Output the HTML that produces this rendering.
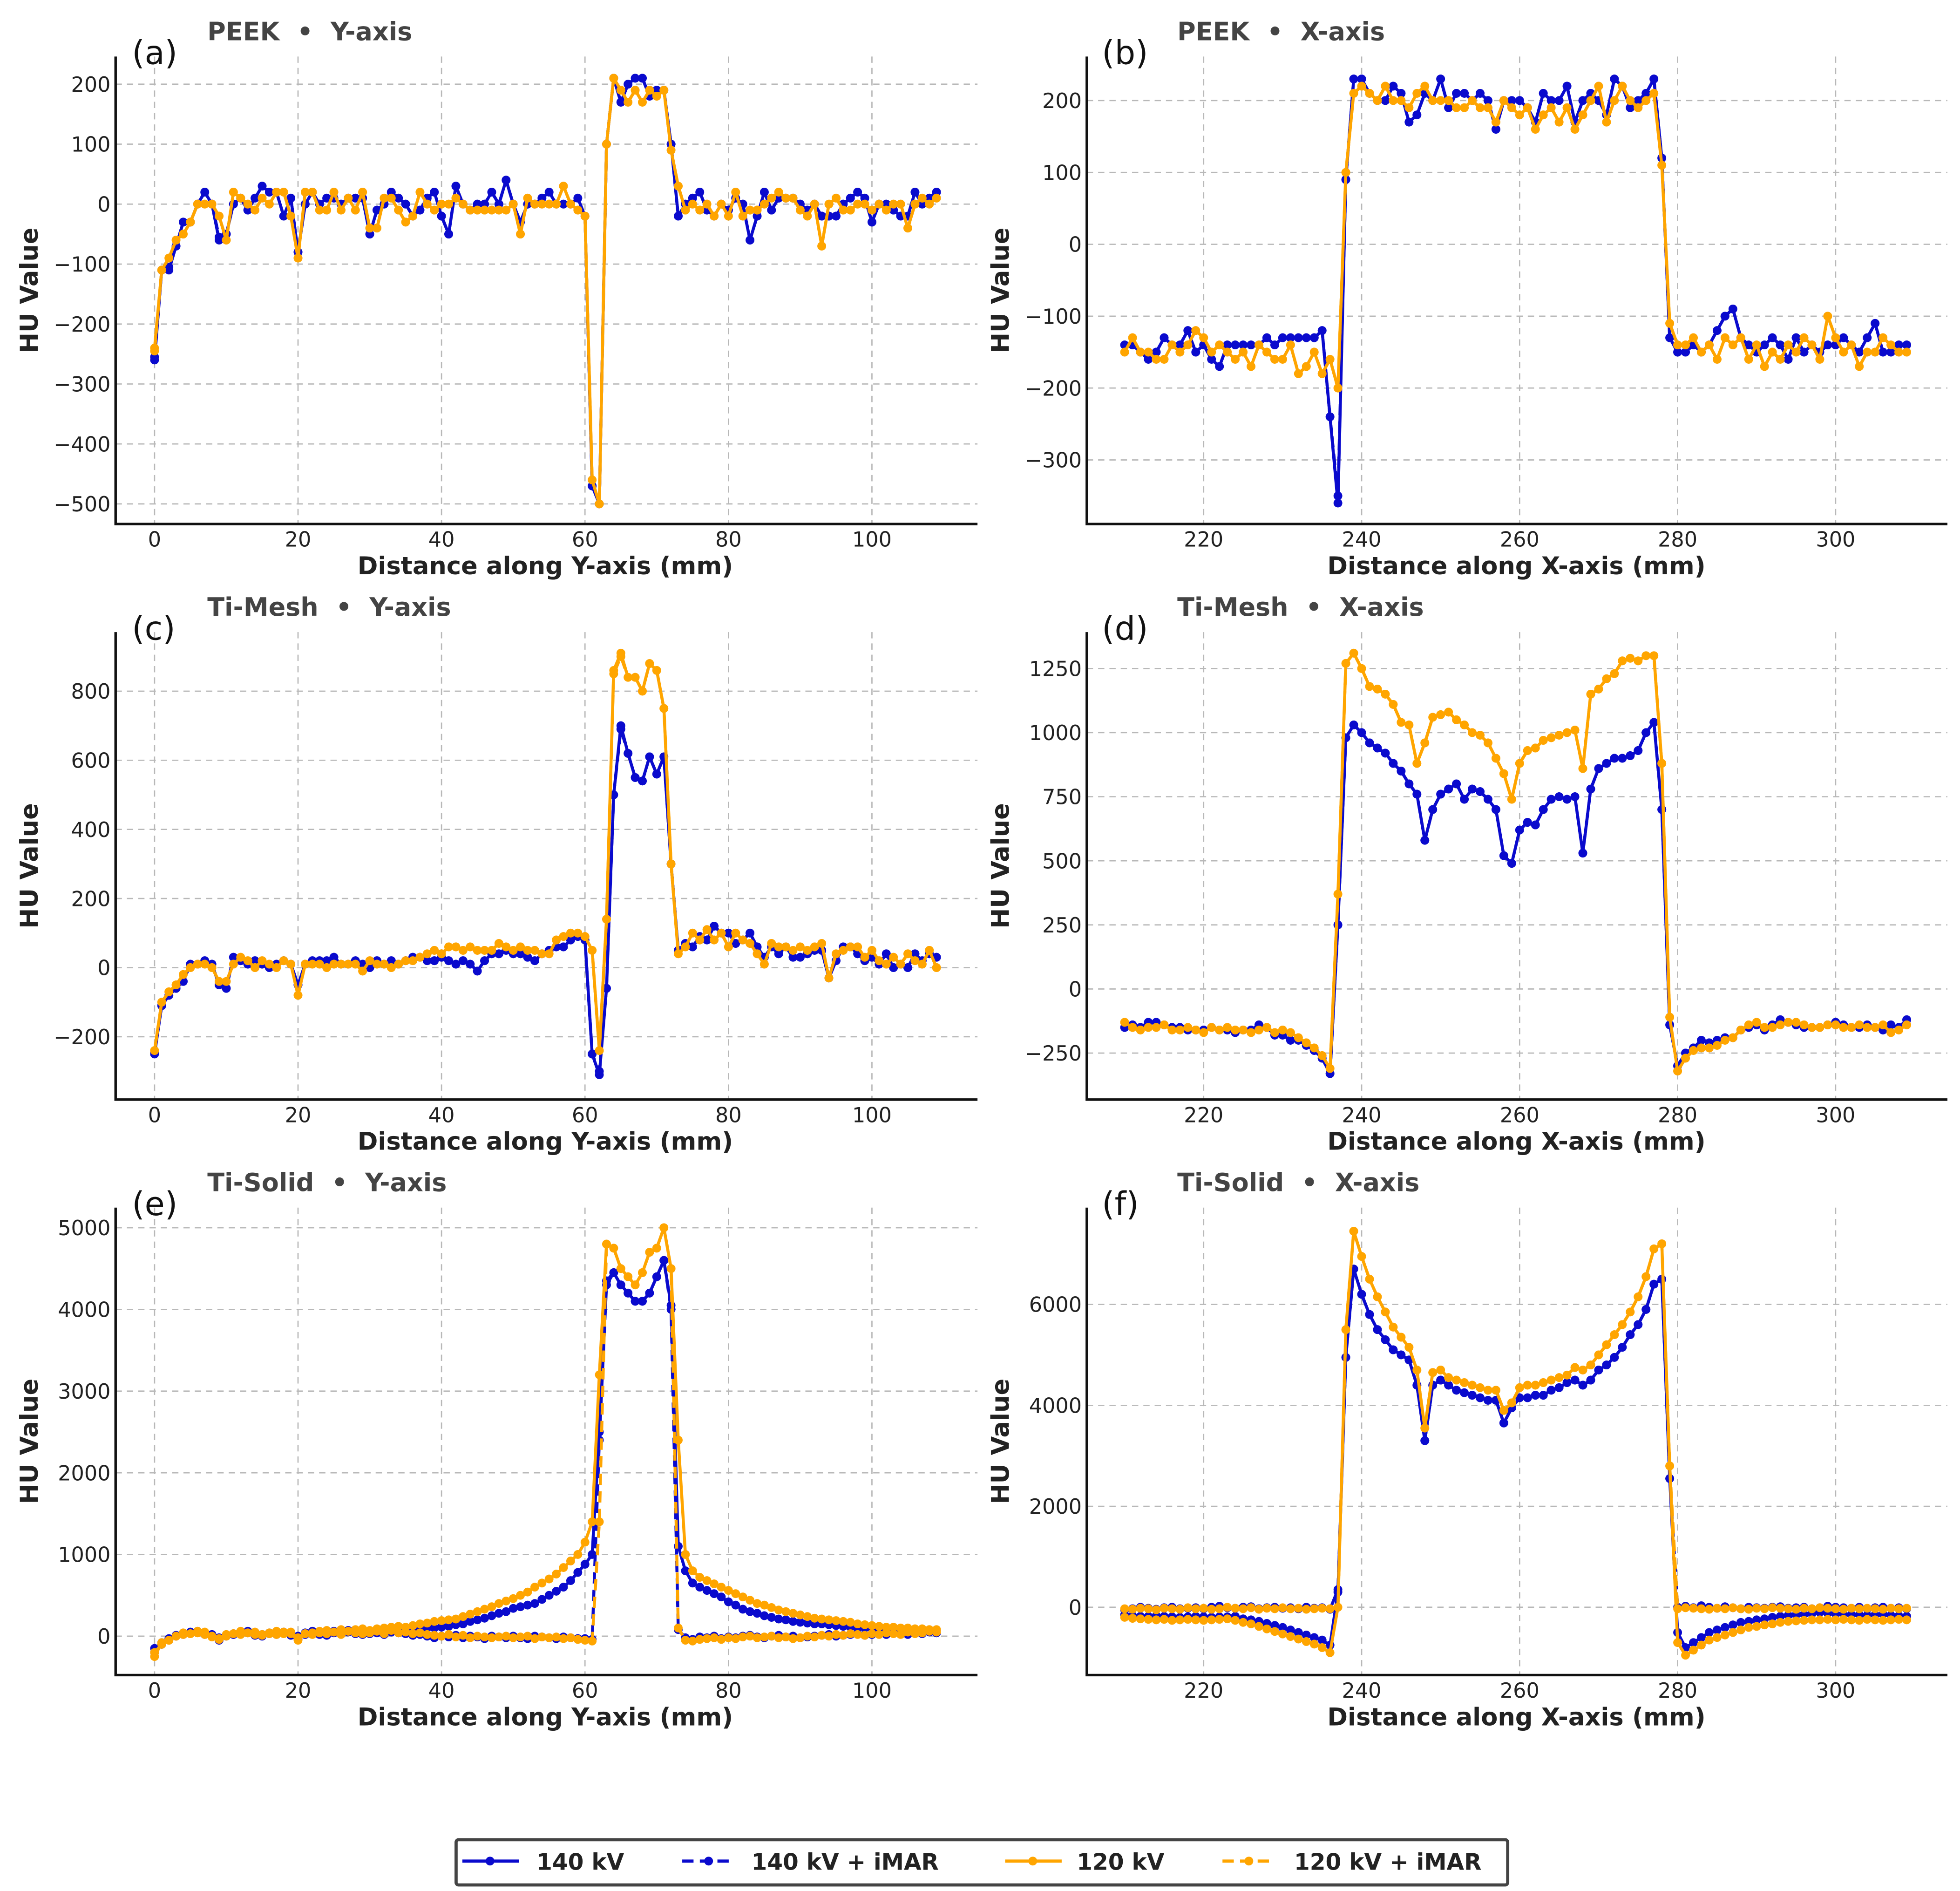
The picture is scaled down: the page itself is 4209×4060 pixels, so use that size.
<!DOCTYPE html>
<html><head><meta charset="utf-8">
<style>
html,body{margin:0;padding:0;background:#fff;}
svg{display:block;}
text{font-family:"DejaVu Sans","Liberation Sans",sans-serif;}
</style></head>
<body>
<svg id="fig" width="4209" height="4060" viewBox="0 0 1560 1504.8" xmlns="http://www.w3.org/2000/svg">
<rect x="0" y="0" width="1560" height="1505" fill="#fff"/>
<g id="panels"></g>
<g>
  <rect x="363" y="1464" width="837" height="36" fill="#fff" stroke="#444" stroke-width="2.5" rx="2"/>
  <g>
    <line x1="368" y1="1481" x2="413" y2="1481" stroke="#0a0acd" stroke-width="2.5"/><circle cx="390" cy="1481" r="3.5" fill="#0a0acd"/>
    <text x="427" y="1488" font-size="18" font-weight="bold" fill="#222">140 kV</text></g>
  <g>
    <line x1="543" y1="1481" x2="585" y2="1481" stroke="#0a0acd" stroke-width="2.5" stroke-dasharray="9,5"/><circle cx="564" cy="1481" r="3.5" fill="#0a0acd"/>
    <text x="598" y="1488" font-size="18" font-weight="bold" fill="#222">140 kV + iMAR</text></g>
  <g>
    <line x1="800" y1="1481" x2="845" y2="1481" stroke="#ffa500" stroke-width="2.5"/><circle cx="822" cy="1481" r="3.5" fill="#ffa500"/>
    <text x="857" y="1488" font-size="18" font-weight="bold" fill="#222">120 kV</text></g>
  <g>
    <line x1="973" y1="1481" x2="1015" y2="1481" stroke="#ffa500" stroke-width="2.5" stroke-dasharray="9,5"/><circle cx="994" cy="1481" r="3.5" fill="#ffa500"/>
    <text x="1030" y="1488" font-size="18" font-weight="bold" fill="#222">120 kV + iMAR</text></g>
</g>
</svg>
<script>
// ---------- data ----------
const startY = 0;     // Y-axis profiles start (mm)
const startX = 210;   // X-axis profiles start (mm)
const seriesNames = ["140 kV","140 kV + iMAR","120 kV","120 kV + iMAR"];

const aBlue = [-260,-110,-110,-70,-30,-30,0,20,0,-60,-50,0,10,-10,10,30,20,20,-20,10,-80,0,20,0,10,10,0,10,10,10,-50,-10,0,20,10,0,-20,-10,10,20,-20,-50,30,0,-10,0,0,20,0,40,0,-30,0,0,10,20,0,0,0,10,-20,-470,-500,100,210,170,200,210,210,180,190,190,100,-20,0,10,20,-10,-20,0,-10,10,0,-60,-20,20,-10,10,10,10,0,-10,0,-20,-20,-20,0,10,20,10,-30,0,0,-10,-20,-20,20,0,10,20];
const aBlueImar = [-255,-110,-105,-70,-30,-30,0,20,0,-55,-50,0,10,-10,10,30,20,20,-20,10,-80,0,20,0,10,10,0,10,10,10,-50,-10,0,20,10,0,-20,-10,10,20,-20,-50,30,0,-10,0,0,20,0,40,0,-30,0,0,10,20,0,0,0,10,-20,-470,-500,100,210,170,200,210,210,180,190,190,100,-20,0,10,20,-10,-20,0,-10,10,0,-60,-20,20,-10,10,10,10,0,-10,0,-20,-20,-20,0,10,20,10,-30,0,0,-10,-20,-20,20,0,10,20];
const aOrange = [-240,-110,-90,-60,-50,-30,0,0,0,-20,-60,20,10,0,-10,10,0,20,20,-20,-90,20,20,-10,-10,20,-10,10,-10,20,-40,-40,10,10,-10,-30,-20,20,0,-10,0,0,10,0,-10,-10,-10,-10,-10,-10,0,-50,10,0,0,0,0,30,0,-10,-20,-460,-500,100,210,190,170,190,170,190,180,190,90,30,-10,0,-10,0,-20,0,-20,20,-20,-10,-10,0,10,20,10,10,-10,-20,0,-70,0,10,-10,-10,0,0,-10,0,-10,0,0,-40,0,10,0,10];
const aOrangeImar = [-245,-110,-90,-60,-50,-30,0,0,0,-20,-60,20,10,0,-10,10,0,20,20,-20,-90,20,20,-10,-10,20,-10,10,-10,20,-40,-40,10,10,-10,-30,-20,20,0,-10,0,0,10,0,-10,-10,-10,-10,-10,-10,0,-50,10,0,0,0,0,30,0,-10,-20,-460,-500,100,210,190,170,190,170,190,180,190,90,30,-10,0,-10,0,-20,0,-20,20,-20,-10,-10,0,10,20,10,10,-10,-20,0,-70,0,10,-10,-10,0,0,-10,0,-10,0,0,-40,0,10,0,10];

const bBlue = [-140,-140,-150,-160,-150,-130,-140,-140,-120,-150,-140,-160,-170,-140,-140,-140,-140,-140,-130,-140,-130,-130,-130,-130,-130,-120,-240,-360,90,230,230,210,200,200,220,210,170,180,210,200,230,190,210,210,200,210,200,160,200,200,200,190,170,210,200,200,220,170,200,210,200,180,230,220,190,200,210,230,120,-130,-150,-150,-140,-150,-140,-120,-100,-90,-130,-140,-150,-140,-130,-140,-160,-130,-150,-140,-150,-140,-140,-130,-140,-150,-130,-110,-150,-150,-140,-140];
const bBlueImar = [-140,-140,-150,-160,-150,-130,-140,-140,-120,-150,-140,-160,-170,-140,-140,-140,-140,-140,-130,-140,-130,-130,-130,-130,-130,-120,-240,-350,90,230,230,210,200,200,220,210,170,180,210,200,230,190,210,210,200,210,200,160,200,200,200,190,170,210,200,200,220,170,200,210,200,180,230,220,190,200,210,230,120,-130,-150,-150,-140,-150,-140,-120,-100,-90,-130,-140,-150,-140,-130,-140,-160,-130,-150,-140,-150,-140,-140,-130,-140,-150,-130,-110,-150,-150,-140,-140];
const bOrange = [-150,-130,-150,-150,-160,-160,-140,-150,-140,-120,-130,-150,-140,-150,-160,-150,-170,-140,-150,-160,-160,-140,-180,-170,-150,-180,-160,-200,100,210,220,210,200,220,200,200,190,210,220,200,200,200,190,190,200,190,190,170,200,190,180,190,160,180,190,170,190,160,180,200,220,170,200,220,200,190,200,210,110,-110,-140,-140,-130,-150,-140,-160,-130,-140,-130,-160,-140,-170,-150,-160,-140,-150,-130,-140,-160,-100,-130,-150,-140,-170,-150,-150,-130,-140,-150,-150];
const bOrangeImar = [-150,-130,-150,-150,-160,-160,-140,-150,-140,-120,-130,-150,-140,-150,-160,-150,-170,-140,-150,-160,-160,-140,-180,-170,-150,-180,-160,-200,100,210,220,210,200,220,200,200,190,210,220,200,200,200,190,190,200,190,190,170,200,190,180,190,160,180,190,170,190,160,180,200,220,170,200,220,200,190,200,210,110,-110,-140,-140,-130,-150,-140,-160,-130,-140,-130,-160,-140,-170,-150,-160,-140,-150,-130,-140,-160,-100,-130,-150,-140,-170,-150,-150,-130,-140,-150,-150];

const cBlue = [-250,-110,-80,-60,-40,10,10,20,10,-50,-60,30,20,10,20,10,0,10,20,10,-50,10,20,20,20,30,10,10,20,10,0,20,10,20,10,20,30,30,20,20,30,20,10,20,10,-10,20,40,40,50,40,40,30,20,40,50,60,60,80,90,80,-250,-310,-60,500,700,620,550,540,610,560,610,300,50,70,60,90,80,120,100,100,70,80,100,60,30,60,40,60,30,30,40,50,50,-30,20,60,60,40,20,30,10,40,0,10,0,40,20,40,30];
const cBlueImar = [-245,-110,-80,-60,-40,10,10,20,10,-50,-60,30,20,10,20,10,0,10,20,10,-50,10,20,20,20,30,10,10,20,10,0,20,10,20,10,20,30,30,20,20,30,20,10,20,10,-10,20,40,40,50,40,40,30,20,40,50,60,60,80,90,80,-250,-300,-60,500,690,620,550,540,610,560,610,300,50,70,60,90,80,120,100,100,70,80,100,60,30,60,40,60,30,30,40,50,50,-30,20,60,60,40,20,30,10,40,0,10,0,40,20,40,30];
const cOrange = [-240,-100,-70,-50,-20,0,10,10,0,-40,-40,10,30,20,0,20,10,0,20,10,-80,10,10,10,0,10,10,10,10,-10,20,10,10,0,10,20,20,30,40,50,40,60,60,50,60,50,50,50,70,60,50,60,50,50,40,40,80,90,100,100,90,50,-240,140,860,910,840,840,800,880,860,750,300,40,60,100,80,110,80,100,60,100,80,70,40,10,70,60,60,50,60,50,60,70,-30,40,50,60,60,30,50,20,10,30,10,40,20,10,50,0];
const cOrangeImar = [-240,-100,-70,-50,-20,0,10,10,0,-40,-40,10,30,20,0,20,10,0,20,10,-80,10,10,10,0,10,10,10,10,-10,20,10,10,0,10,20,20,30,40,50,40,60,60,50,60,50,50,50,70,60,50,60,50,50,40,40,80,90,100,100,90,50,-240,140,850,900,840,840,800,880,860,750,300,40,60,100,80,110,80,100,60,100,80,70,40,10,70,60,60,50,60,50,60,70,-30,40,50,60,60,30,50,20,10,30,10,40,20,10,50,0];

const dBlue = [-150,-140,-150,-130,-130,-140,-150,-150,-160,-160,-160,-150,-160,-160,-170,-160,-160,-140,-150,-180,-180,-200,-200,-220,-240,-270,-330,250,980,1030,1000,960,940,920,880,850,800,760,580,700,760,780,800,740,780,770,740,700,520,490,620,650,640,700,740,750,740,750,530,780,860,880,900,900,910,930,1000,1040,700,-140,-300,-250,-230,-200,-210,-200,-190,-190,-160,-150,-140,-160,-140,-120,-130,-140,-150,-150,-150,-140,-130,-140,-150,-150,-140,-150,-160,-140,-150,-120];
const dBlueImar = [-150,-140,-150,-130,-130,-140,-150,-150,-160,-160,-160,-150,-160,-160,-170,-160,-160,-140,-150,-180,-180,-200,-200,-220,-240,-270,-330,250,980,1030,1000,960,940,920,880,850,800,760,580,700,760,780,800,740,780,770,740,700,520,490,620,650,640,700,740,750,740,750,530,780,860,880,900,900,910,930,1000,1040,700,-140,-300,-250,-230,-200,-210,-200,-190,-190,-160,-150,-140,-160,-140,-120,-130,-140,-150,-150,-150,-140,-130,-140,-150,-150,-140,-150,-160,-140,-150,-120];
const dOrange = [-130,-150,-160,-150,-150,-140,-160,-160,-150,-160,-170,-150,-160,-150,-160,-160,-170,-160,-150,-170,-160,-170,-190,-210,-230,-260,-310,370,1270,1310,1250,1180,1170,1150,1110,1040,1030,880,960,1060,1070,1080,1050,1030,1000,990,960,900,840,740,880,930,940,970,980,990,1000,1010,860,1150,1170,1210,1230,1280,1290,1280,1300,1300,880,-110,-320,-270,-240,-230,-230,-220,-200,-190,-160,-140,-130,-150,-150,-140,-130,-130,-140,-150,-150,-140,-140,-150,-150,-140,-150,-150,-140,-170,-160,-140];
const dOrangeImar = [-130,-150,-160,-150,-150,-140,-160,-160,-150,-160,-170,-150,-160,-150,-160,-160,-170,-160,-150,-170,-160,-170,-190,-210,-230,-260,-310,370,1270,1310,1250,1180,1170,1150,1110,1040,1030,880,960,1060,1070,1080,1050,1030,1000,990,960,900,840,740,880,930,940,970,980,990,1000,1010,860,1150,1170,1210,1230,1280,1290,1280,1300,1300,880,-110,-320,-270,-240,-230,-230,-220,-200,-190,-160,-140,-130,-150,-150,-140,-130,-130,-140,-150,-150,-140,-140,-150,-150,-140,-150,-150,-140,-170,-160,-140];

const eBlue = [-200,-100,-50,0,30,50,60,30,20,-20,10,30,50,60,30,20,40,30,50,40,0,40,60,50,40,60,50,70,60,50,60,70,60,80,90,80,100,80,100,100,110,120,140,150,180,200,220,250,280,300,340,360,380,400,450,500,550,600,680,780,880,1000,2500,4350,4450,4300,4200,4100,4100,4200,4400,4600,4050,1100,800,650,600,560,520,480,420,380,330,300,280,250,230,210,200,180,170,160,150,150,140,130,120,110,100,100,90,80,70,80,60,70,60,50,60,70];
const eBlueImar = [-150,-80,-30,10,20,40,50,20,0,-50,0,20,30,40,10,0,30,20,40,10,-40,20,30,20,10,40,30,50,30,20,30,40,20,50,40,30,10,20,0,-20,0,-10,10,-20,0,-10,-30,0,-10,-20,0,-20,-30,0,-10,-20,-30,-10,-20,-30,-30,-40,2400,4300,4450,4300,4200,4100,4100,4200,4400,4600,4000,80,-20,-40,-10,-20,0,-30,-10,-20,0,10,-10,-20,0,10,-10,0,-20,-10,0,10,20,0,10,20,30,10,20,30,20,40,30,20,40,30,50,40];
const eOrange = [-250,-80,-50,0,40,30,60,50,0,-30,20,30,60,40,50,20,40,60,30,50,-20,30,40,60,70,50,80,60,80,90,70,90,100,110,120,110,130,150,160,180,190,200,210,240,270,300,330,360,400,430,460,500,540,600,650,700,760,840,920,1000,1150,1400,3200,4800,4750,4500,4400,4300,4450,4700,4750,5000,4500,2400,1000,800,720,680,640,600,560,520,480,440,400,380,350,320,300,280,260,240,220,210,200,190,180,170,150,140,130,120,110,110,100,100,90,90,80,80];
const eOrangeImar = [-200,-100,-50,0,20,30,40,20,-10,-40,0,30,20,40,20,10,30,20,50,30,-50,30,20,40,30,50,20,60,40,30,40,60,30,70,40,50,30,40,20,10,0,20,-10,10,-20,0,-10,-20,-10,0,-20,-10,0,-30,-10,-20,-10,-30,-20,-40,-50,-60,1400,4800,4750,4500,4400,4300,4450,4700,4750,5000,4500,100,-50,-60,-40,-30,-20,-40,-20,-30,-10,0,-20,-10,0,-20,-10,-30,-20,0,-10,10,0,20,10,30,20,10,30,20,40,30,20,50,30,40,60,50];

const fBlue = [-150,-170,-180,-180,-170,-180,-190,-200,-190,-180,-190,-200,-190,-190,-180,-230,-250,-280,-320,-360,-400,-450,-500,-550,-600,-650,-750,300,4950,6700,6200,5800,5500,5300,5100,5000,4900,4400,3300,4400,4500,4400,4300,4250,4200,4150,4100,4100,3650,3950,4150,4150,4200,4200,4300,4350,4450,4500,4400,4500,4700,4800,4950,5150,5400,5600,5900,6400,6500,2550,-500,-800,-700,-600,-500,-450,-400,-350,-300,-280,-250,-230,-200,-180,-160,-150,-140,-130,-100,-120,-130,-140,-150,-150,-160,-150,-140,-160,-170,-180];
const fBlueImar = [-50,-30,0,-20,-40,-10,0,-30,-20,-10,-30,0,20,-10,-20,0,10,-30,-10,0,-20,-10,-30,0,-20,-10,-40,350,4950,6700,6200,5800,5500,5300,5100,5000,4900,4400,3300,4400,4500,4400,4300,4250,4200,4150,4100,4100,3650,3950,4150,4150,4200,4200,4300,4350,4450,4500,4400,4500,4700,4800,4950,5150,5400,5600,5900,6400,6500,2550,0,20,-10,30,0,-20,10,-10,-30,0,-10,-20,0,10,-20,-10,0,-30,-10,20,0,-10,-20,0,-30,-10,0,-20,-10,-30];
const fOrange = [-200,-220,-230,-240,-250,-240,-260,-250,-240,-250,-260,-250,-240,-230,-260,-300,-330,-380,-430,-480,-530,-580,-630,-680,-730,-800,-900,0,5500,7450,6950,6500,6150,5850,5550,5350,5150,4700,3550,4650,4700,4550,4500,4450,4400,4350,4300,4300,3900,4050,4350,4400,4400,4450,4500,4550,4600,4750,4700,4800,5000,5200,5400,5600,5850,6150,6550,7100,7200,2800,-700,-950,-850,-750,-650,-600,-550,-500,-450,-400,-380,-350,-330,-300,-280,-270,-260,-250,-250,-240,-250,-240,-250,-260,-240,-250,-260,-250,-240,-250];
const fOrangeImar = [-30,-40,-20,-30,-50,-20,-30,-40,-10,-30,-20,-40,-30,0,-20,-30,-10,-40,-20,-30,-10,-30,-20,-40,-30,-20,-30,0,5500,7450,6950,6500,6150,5850,5550,5350,5150,4700,3550,4650,4700,4550,4500,4450,4400,4350,4300,4300,3900,4050,4350,4400,4400,4450,4500,4550,4600,4750,4700,4800,5000,5200,5400,5600,5850,6150,6550,7100,7200,2800,-30,-10,-20,-30,-40,-20,-30,-10,-30,-40,-20,-30,-10,-20,-30,-40,-20,-30,-10,-20,-30,-40,-20,-30,-20,-30,-40,-20,-30,-20];

const yTicksA = [-500,-400,-300,-200,-100,0,100,200];
const yTicksB = [-300,-200,-100,0,100,200];
const yTicksC = [-200,0,200,400,600,800];
const yTicksD = [-250,0,250,500,750,1000,1250];
const yTicksE = [0,1000,2000,3000,4000,5000];
const yTicksF = [0,2000,4000,6000];
const xTicksY = [0,20,40,60,80,100];
const xTicksX = [220,240,260,280,300];

// ---------- drawing ----------
const NS = "http://www.w3.org/2000/svg";
const root = document.getElementById("panels");
const BLUE = "#0a0acd", ORANGE = "#ffa500";
function mk(tag, attrs, parent){
  const e = document.createElementNS(NS, tag);
  for (const k in attrs) e.setAttribute(k, attrs[k]);
  parent.appendChild(e); return e;
}
function lin(d0,p0,d1,p1){ return v => p0 + (v-d0)*(p1-p0)/(d1-d0); }

const panels = [
 {id:"a", label:"(a)", title:"PEEK  •  Y-axis", oy:0, side:"L", start:startY, xt:xTicksY, yt:yTicksA, ycal:[200,67,-500,401], s:[aBlue,aBlueImar,aOrange,aOrangeImar], xl:"Distance along Y-axis (mm)"},
 {id:"b", label:"(b)", title:"PEEK  •  X-axis", oy:0, side:"R", start:startX, xt:xTicksX, yt:yTicksB, ycal:[200,80,-300,366], s:[bBlue,bBlueImar,bOrange,bOrangeImar], xl:"Distance along X-axis (mm)"},
 {id:"c", label:"(c)", title:"Ti-Mesh  •  Y-axis", oy:458, side:"L", start:startY, xt:xTicksY, yt:yTicksC, ycal:[800,550,-200,825], s:[cBlue,cBlueImar,cOrange,cOrangeImar], xl:"Distance along Y-axis (mm)"},
 {id:"d", label:"(d)", title:"Ti-Mesh  •  X-axis", oy:458, side:"R", start:startX, xt:xTicksX, yt:yTicksD, ycal:[1250,532,-250,838], s:[dBlue,dBlueImar,dOrange,dOrangeImar], xl:"Distance along X-axis (mm)"},
 {id:"e", label:"(e)", title:"Ti-Solid  •  Y-axis", oy:916, side:"L", start:startY, xt:xTicksY, yt:yTicksE, ycal:[5000,977,0,1302], s:[eBlue,eBlueImar,eOrange,eOrangeImar], xl:"Distance along Y-axis (mm)"},
 {id:"f", label:"(f)", title:"Ti-Solid  •  X-axis", oy:916, side:"R", start:startX, xt:xTicksX, yt:yTicksF, ycal:[6000,1038,0,1279], s:[fBlue,fBlueImar,fOrange,fOrangeImar], xl:"Distance along X-axis (mm)"}
];
const styles = [
 {c:BLUE, dash:null, n:"140kv"},
 {c:BLUE, dash:"9,5", n:"140kv-imar"},
 {c:ORANGE, dash:null, n:"120kv"},
 {c:ORANGE, dash:"9,5", n:"120kv-imar"}
];

panels.forEach(p => {
  const L = p.side==="L";
  const left = L?92:865, right = L?778:1550;
  const top = 45 + p.oy, bottom = 417 + p.oy;
  const X = L ? lin(0,123,100,694) : lin(220,958,300,1461);
  const Y = lin(p.ycal[0], p.ycal[1], p.ycal[2], p.ycal[3]);
  const g = mk("g", {}, root);
  
  
  const grid = mk("g", {}, g);
  
  
  p.xt.forEach(t => { mk("line",{x1:X(t),x2:X(t),y1:top,y2:bottom,stroke:"#b8b8b8","stroke-width":1,"stroke-dasharray":"5,4"},grid); });
  p.yt.forEach(t => { mk("line",{x1:left,x2:right,y1:Y(t),y2:Y(t),stroke:"#b8b8b8","stroke-width":1,"stroke-dasharray":"5,4"},grid); });
  p.xt.forEach(t => {
    const tx = mk("text",{x:X(t),y:bottom+18,"font-size":16.5,"text-anchor":"middle",fill:"#222"},g);
    tx.textContent = String(t);
    
    
  });
  p.yt.forEach(t => {
    const ty = mk("text",{x:left-4,y:Y(t)+6,"font-size":16.5,"text-anchor":"end",fill:"#222"},g);
    ty.textContent = String(t).replace("-","\u2212");
    
    
  });
  p.s.forEach((arr, si) => {
    const st = styles[si];
    const sg = mk("g", {}, g);
    
    
    const pts = arr.map((v,i) => X(p.start+i).toFixed(2)+","+Y(v).toFixed(2)).join(" ");
    const pl = mk("polyline",{points:pts,fill:"none",stroke:st.c,"stroke-width":2.4,"stroke-linejoin":"round"},sg);
    if (st.dash) pl.setAttribute("stroke-dasharray", st.dash);
    
    
    arr.forEach((v,i) => {
      const c = mk("circle",{cx:X(p.start+i),cy:Y(v),r:3.5,fill:st.c},sg);
      
      
    });
  });
  const ax = mk("path",{d:`M${left},${top} L${left},${bottom} L${right},${bottom}`,fill:"none",stroke:"#111","stroke-width":2},g);
  
  
  const xl = mk("text",{x:L?434:1207,y:bottom+40,"font-size":19.5,"font-weight":"bold","text-anchor":"middle",fill:"#222"},g);
  xl.textContent = p.xl;
  
  
  const yx = L?30:803, yy = (top+bottom)/2;
  const yl = mk("text",{x:yx,y:yy,"font-size":19.5,"font-weight":"bold","text-anchor":"middle",fill:"#222",transform:`rotate(-90 ${yx} ${yy})`},g);
  yl.textContent = "HU Value";
  
  
  const pl = mk("text",{x:L?105:877,y:51+p.oy,"font-size":26,fill:"#111"},g);
  pl.textContent = p.label;
  
  
  const tt = mk("text",{x:L?165:937,y:32+p.oy,"font-size":20,"font-weight":"bold",fill:"#444"},g);
  tt.setAttribute("style","white-space:pre");
  tt.textContent = p.title;
  
  
});
</script>
</body></html>
